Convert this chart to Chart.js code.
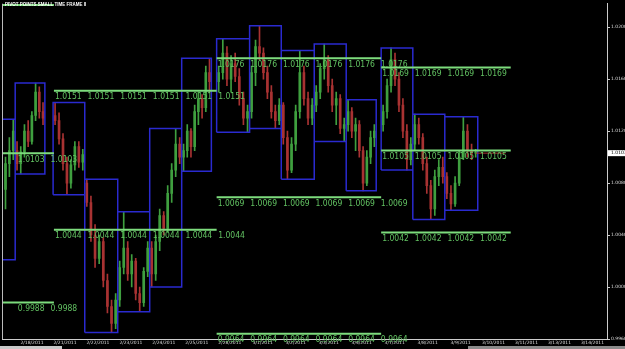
<!DOCTYPE html>
<html>
<head>
<meta charset="utf-8">
<script src="https://cdn.jsdelivr.net/npm/chart.js@4/dist/chart.umd.min.js"></script>
<style>
html, body { margin: 0; padding: 0; background: #000; }
#wrap { width: 625px; height: 349px; }
</style>
</head>
<body>
<div id="wrap"><canvas id="pivotChart" width="625" height="349"></canvas></div>
<script>
// x axis: one unit = one trading day, tick i = dayLabels[i]
const dayLabels = ['2/18/2011', '2/21/2011', '2/22/2011', '2/23/2011', '2/24/2011', '2/25/2011',
    '2/28/2011', '3/1/2011', '3/2/2011', '3/3/2011', '3/4/2011', '3/7/2011', '3/8/2011',
    '3/9/2011', '3/10/2011', '3/11/2011', '3/13/2011', '3/14/2011'];
const priceTicks = [0.9960, 1.0000, 1.0040, 1.0080, 1.0120, 1.0160, 1.0200];

// daily sessions (2/17 .. 3/9): time span in day units, high and low of the day
const sessionStart = [-1.45, -0.51, 0.64, 1.60, 2.60, 3.57, 4.54, 5.60, 6.60, 7.56, 8.56, 9.53, 10.59, 11.55, 12.52];
const sessionEnd   = [-0.51, 0.39, 1.60, 2.60, 3.57, 4.54, 5.44, 6.60, 7.56, 8.56, 9.53, 10.44, 11.55, 12.52, 13.52];
const sessionHigh  = [1.0129, 1.0157, 1.0142, 1.0083, 1.0058, 1.0122, 1.0176, 1.0191, 1.0201, 1.0182, 1.0187, 1.0144, 1.0184, 1.0133, 1.0131];
const sessionLow   = [1.0021, 1.0087, 1.0071, 0.9965, 0.9981, 1.0000, 1.0089, 1.0119, 1.0122, 1.0083, 1.0112, 1.0074, 1.0090, 1.0052, 1.0059];

// intraday bars [open, high, low, close]
const feb17 = [[1.0075,1.0100,1.0060,1.0095],[1.0095,1.0115,1.0085,1.0105],[1.0105,1.0129,1.0098,1.0120]];
const feb18 = [[1.0105,1.0112,1.0090,1.0095],[1.0095,1.0108,1.0087,1.0104],[1.0104,1.0125,1.0100,1.0120],[1.0120,1.0128,1.0108,1.0112],
               [1.0112,1.0135,1.0110,1.0132],[1.0132,1.0157,1.0128,1.0150],[1.0150,1.0154,1.0130,1.0135],[1.0135,1.0142,1.0125,1.0130]];
const feb21 = [[1.0132,1.0142,1.0125,1.0128],[1.0128,1.0134,1.0110,1.0114],[1.0114,1.0118,1.0090,1.0095],[1.0095,1.0100,1.0071,1.0080],
               [1.0080,1.0098,1.0076,1.0094],[1.0094,1.0112,1.0090,1.0108],[1.0108,1.0112,1.0092,1.0096],[1.0096,1.0106,1.0090,1.0102]];
const feb22 = [[1.0080,1.0083,1.0062,1.0065],[1.0065,1.0070,1.0035,1.0040],[1.0040,1.0048,1.0015,1.0022],[1.0022,1.0040,1.0018,1.0035],
               [1.0035,1.0038,1.0000,1.0005],[1.0005,1.0010,0.9980,0.9985],[0.9985,0.9990,0.9965,0.9972],[0.9972,0.9995,0.9968,0.9990]];
const feb23 = [[0.9990,1.0020,0.9985,1.0015],[1.0015,1.0058,1.0010,1.0030],[1.0030,1.0035,1.0005,1.0010],[1.0010,1.0025,1.0000,1.0020],
               [1.0020,1.0022,0.9990,0.9995],[0.9995,1.0000,0.9981,0.9988],[0.9988,1.0015,0.9985,1.0012],[1.0012,1.0035,1.0008,1.0030]];
const feb24 = [[1.0030,1.0035,1.0000,1.0010],[1.0010,1.0040,1.0005,1.0035],[1.0035,1.0060,1.0028,1.0055],[1.0055,1.0058,1.0040,1.0045],
               [1.0045,1.0078,1.0042,1.0072],[1.0072,1.0095,1.0065,1.0090],[1.0090,1.0122,1.0085,1.0110],[1.0110,1.0115,1.0095,1.0100]];
const feb25 = [[1.0100,1.0110,1.0089,1.0105],[1.0105,1.0125,1.0100,1.0120],[1.0120,1.0122,1.0100,1.0108],[1.0108,1.0140,1.0105,1.0135],
               [1.0135,1.0150,1.0125,1.0145],[1.0145,1.0148,1.0130,1.0138],[1.0138,1.0170,1.0135,1.0165],[1.0165,1.0176,1.0150,1.0158]];
const feb28 = [[1.0158,1.0170,1.0150,1.0165],[1.0165,1.0191,1.0160,1.0180],[1.0180,1.0185,1.0155,1.0160],[1.0160,1.0178,1.0150,1.0172],
               [1.0172,1.0180,1.0158,1.0162],[1.0162,1.0168,1.0140,1.0145],[1.0145,1.0150,1.0125,1.0130],[1.0130,1.0140,1.0119,1.0135]];
const mar01 = [[1.0135,1.0170,1.0130,1.0165],[1.0165,1.0190,1.0155,1.0185],[1.0185,1.0201,1.0175,1.0180],[1.0180,1.0184,1.0160,1.0165],
               [1.0165,1.0170,1.0145,1.0150],[1.0150,1.0155,1.0130,1.0135],[1.0135,1.0140,1.0122,1.0128],[1.0128,1.0145,1.0125,1.0140]];
const mar02 = [[1.0140,1.0142,1.0110,1.0115],[1.0115,1.0120,1.0083,1.0090],[1.0090,1.0115,1.0088,1.0110],[1.0110,1.0140,1.0105,1.0135],
               [1.0135,1.0182,1.0130,1.0165],[1.0165,1.0170,1.0140,1.0145],[1.0145,1.0150,1.0125,1.0130],[1.0130,1.0145,1.0125,1.0140]];
const mar03 = [[1.0140,1.0155,1.0135,1.0150],[1.0150,1.0172,1.0145,1.0168],[1.0168,1.0187,1.0160,1.0175],[1.0175,1.0178,1.0150,1.0155],
               [1.0155,1.0160,1.0135,1.0140],[1.0140,1.0150,1.0125,1.0145],[1.0145,1.0148,1.0118,1.0122],[1.0122,1.0130,1.0112,1.0125]];
const mar04 = [[1.0125,1.0144,1.0120,1.0135],[1.0135,1.0138,1.0115,1.0120],[1.0120,1.0130,1.0105,1.0125],[1.0125,1.0128,1.0100,1.0105],
               [1.0105,1.0108,1.0074,1.0080],[1.0080,1.0105,1.0078,1.0100],[1.0100,1.0120,1.0095,1.0115],[1.0115,1.0125,1.0108,1.0120]];
const mar07 = [[1.0125,1.0140,1.0120,1.0135],[1.0135,1.0160,1.0130,1.0155],[1.0155,1.0184,1.0150,1.0175],[1.0175,1.0180,1.0155,1.0160],
               [1.0160,1.0165,1.0135,1.0140],[1.0140,1.0145,1.0115,1.0120],[1.0120,1.0125,1.0090,1.0098],[1.0098,1.0115,1.0094,1.0110]];
const mar08 = [[1.0110,1.0133,1.0105,1.0125],[1.0125,1.0130,1.0110,1.0115],[1.0115,1.0118,1.0090,1.0095],[1.0095,1.0100,1.0072,1.0078],
               [1.0078,1.0082,1.0052,1.0060],[1.0060,1.0090,1.0055,1.0085],[1.0085,1.0098,1.0078,1.0092],[1.0092,1.0100,1.0080,1.0085]];
const mar09 = [[1.0085,1.0088,1.0068,1.0072],[1.0072,1.0078,1.0059,1.0064],[1.0064,1.0085,1.0062,1.0080],[1.0080,1.0105,1.0078,1.0100],
               [1.0100,1.0131,1.0098,1.0120],[1.0120,1.0125,1.0100,1.0105],[1.0105,1.0110,1.0098,1.0103],[1.0103,1.0106,1.0100,1.0103]];
const sessions = [feb17, feb18, feb21, feb22, feb23, feb24, feb25, feb28, mar01, mar02, mar03, mar04, mar07, mar08, mar09];

// weekly pivot levels
const periodStart = [-1.45, 0.665, 5.60, 10.59];
const periodEnd   = [0.665, 5.60, 10.59, 14.52];
const periodLabelCount = [3, 6, 6, 4];
const pivotPeriod = [0, 0, 0, 1, 1, 2, 2, 2, 3, 3, 3];
const pivotLevel  = [1.0217, 1.0103, 0.9988, 1.0151, 1.0044, 1.0176, 1.0069, 0.9964, 1.0169, 1.0105, 1.0042];
const pivotShowText = [false, true, true, true, true, true, true, true, true, true, true];
const lastPrice = 1.0103;

const UP = '#3f9f3f', DOWN = '#a83232';

// build the datasets
const wicks = [], bodies = [], barColors = [];
sessions.forEach((bars, d) => {
    const step = (sessionEnd[d] - sessionStart[d]) / 8;
    bars.forEach((b, k) => {
        const x = sessionEnd[d] - (bars.length - k - 0.5) * step;
        wicks.push({ x: x, y: [b[2], b[1]] });
        bodies.push({ x: x, y: [Math.min(b[0], b[3]), Math.max(b[0], b[3])] });
        barColors.push(b[3] >= b[0] ? UP : DOWN);
    });
});

const boxPoints = [];
sessionStart.forEach((s, d) => {
    const e = sessionEnd[d];
    boxPoints.push({ x: s, y: sessionLow[d] }, { x: s, y: sessionHigh[d] },
        { x: e, y: sessionHigh[d] }, { x: e, y: sessionLow[d] }, { x: s, y: sessionLow[d] }, { x: e, y: null });
});

const pivotPoints = [];
pivotLevel.forEach((lvl, i) => {
    const p = pivotPeriod[i];
    pivotPoints.push({ x: periodStart[p], y: lvl }, { x: periodEnd[p], y: lvl }, { x: periodEnd[p], y: null });
});

const lastX = wicks[wicks.length - 1].x;
const lastLine = [{ x: lastX, y: lastPrice }, { x: lastX + 0.9, y: lastPrice }];

// text drawn over the plot: pivot labels, title, last price box
const overlayPlugin = {
    id: 'overlay',
    afterDatasetsDraw(chart) {
        const { ctx, chartArea, scales: { x, y } } = chart;
        ctx.save();
        ctx.fillStyle = '#62c262';
        ctx.font = '8.5px "Liberation Sans Narrow", "DejaVu Sans Condensed", sans-serif';
        ctx.textBaseline = 'top';
        pivotLevel.forEach((lvl, i) => {
            if (!pivotShowText[i]) return;
            const p = pivotPeriod[i];
            for (let k = 0; k < periodLabelCount[p]; k++) {
                const px = x.getPixelForValue(periodStart[p] + k * 0.99) + 1;
                if (px < chartArea.left) continue;
                ctx.fillText(lvl.toFixed(4), px, y.getPixelForValue(lvl) + 2);
            }
        });
        ctx.restore();

        ctx.save();
        ctx.fillStyle = '#fff';
        ctx.font = 'bold 4.5px "Liberation Sans", sans-serif';
        ctx.textBaseline = 'top';
        ctx.fillText('PIVOT POINTS SMALL TIME FRAME II', 5, 3);
        // chart left border
        ctx.fillStyle = '#bbb';
        ctx.fillRect(chartArea.left, chartArea.top, 1, chartArea.bottom - chartArea.top);
        // scroll strip along the bottom
        ctx.fillStyle = '#c8c8c8';
        ctx.fillRect(0, 346, 62, 3);
        ctx.fillStyle = '#8a8a8a';
        ctx.fillRect(468, 346, 157, 3);
        // last price tag on the axis
        const py = y.getPixelForValue(lastPrice);
        ctx.fillStyle = '#fff';
        ctx.fillRect(chartArea.right + 1, py - 3, 18, 6);
        ctx.fillStyle = '#000';
        ctx.font = '4.5px "DejaVu Sans", sans-serif';
        ctx.textBaseline = 'middle';
        ctx.fillText(lastPrice.toFixed(4), chartArea.right + 4, py);
        ctx.restore();
    }
};

const ctx = document.getElementById('pivotChart').getContext('2d');
const pivotChart = new Chart(ctx, {
    type: 'bar',
    data: {
        datasets: [
            { type: 'line', label: 'Pivots', data: pivotPoints, borderColor: '#7ddc7d', borderWidth: 2,
              pointRadius: 0, spanGaps: false, tension: 0, order: 0 },
            { type: 'line', label: 'Last', data: lastLine, borderColor: DOWN, borderWidth: 1,
              pointRadius: 0, order: 1 },
            { type: 'line', label: 'Sessions', data: boxPoints, borderColor: '#2a2acf', borderWidth: 1.5,
              pointRadius: 0, spanGaps: false, tension: 0, order: 2 },
            { label: 'Bodies', data: bodies, backgroundColor: barColors, barThickness: 2,
              minBarLength: 1, grouped: false, order: 3 },
            { label: 'Wicks', data: wicks, backgroundColor: barColors, barThickness: 1,
              grouped: false, order: 4 }
        ]
    },
    options: {
        responsive: false,
        animation: false,
        layout: { padding: { left: 2, top: 0, right: 0, bottom: 0 } },
        plugins: { legend: { display: false }, tooltip: { enabled: false } },
        scales: {
            x: {
                type: 'linear', min: -0.91, max: 17.44, offset: false,
                afterFit: s => { s.height = 10; },
                afterBuildTicks: s => { s.ticks = dayLabels.map((_, i) => ({ value: i })); },
                grid: { display: false, drawTicks: false, tickLength: 0 },
                border: { color: '#ccc' },
                ticks: { color: '#ddd', autoSkip: false, maxRotation: 0, padding: 1,
                         font: { size: 4.5, family: 'DejaVu Sans' },
                         callback: v => dayLabels[v] || '' }
            },
            y: {
                type: 'linear', position: 'right', min: 0.9960, max: 1.0218,
                afterFit: s => { s.width = 18; },
                afterBuildTicks: s => { s.ticks = priceTicks.map(v => ({ value: v })); },
                grid: { drawOnChartArea: false, color: '#ccc', tickLength: 3 },
                border: { color: '#ccc' },
                ticks: { color: '#ddd', padding: 1, font: { size: 4.5, family: 'DejaVu Sans' },
                         callback: v => v.toFixed(4) }
            }
        }
    },
    plugins: [overlayPlugin]
});
</script>
</body>
</html>
